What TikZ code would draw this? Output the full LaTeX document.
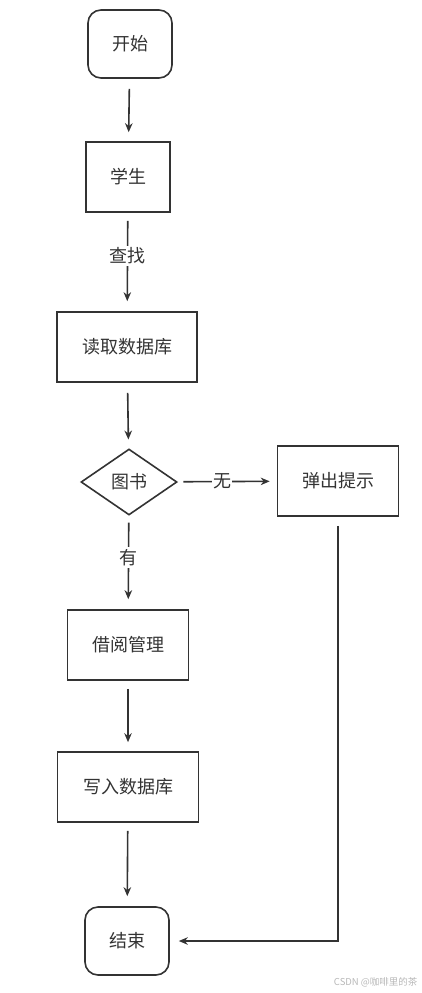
\documentclass[tikz,border=0pt]{standalone}
\usepackage{fontspec}
\setmainfont{Noto Sans CJK SC}
\usepackage{tikz}
\usetikzlibrary{shapes.geometric,arrows.meta}
\definecolor{ink}{HTML}{333333}

\begin{document}
\begin{tikzpicture}[x=1pt,y=-1pt,
    font=\fontsize{18}{20}\selectfont, text=ink,
    >={Stealth[length=9pt,width=7.5pt]},
    box/.style={draw=ink,line width=1.6pt,minimum width=#1,minimum height=70pt,inner sep=0pt},
    term/.style={draw=ink,line width=1.6pt,rounded corners=13pt,minimum width=84pt,minimum height=68pt},
    decision/.style={draw=ink,line width=1.6pt,diamond,aspect=1.45,minimum width=96pt,minimum height=66pt,inner sep=0pt},
    lbl/.style={fill=white,inner sep=2pt}]
        \useasboundingbox (0,0) rectangle (422,993);

        \node[term] (start) at (130,44) {开始};
        \node[box=84pt] (stu) at (128,177) {学生};
        \node[box=140pt] (read) at (127,347) {读取数据库};
        \node[decision] (book) at (129,482) {图书};
        \node[box=121pt] (tip) at (338,481) {弹出提示};
        \node[box=121pt] (borrow) at (128,645) {借阅管理};
        \node[box=141pt] (write) at (128,787) {写入数据库};
        \node[term] (end) at (127,941) {结束};

        \path[->,draw=ink,line width=1.6pt]
        (start) edge [shorten <=10pt,shorten >=9pt] (stu)
        (stu) edge [shorten <=8pt,shorten >=10pt] node [lbl,pos=0.44] {查找} (read)
        (read) edge [shorten <=10pt,shorten >=9pt] (book)
        (book) edge [shorten <=6pt,shorten >=7pt] node [lbl,inner sep=1pt,pos=0.45] {无} (tip)
        (book) edge [shorten <=7pt,shorten >=10pt] node [lbl,pos=0.45] {有} (borrow)
        (borrow) edge [shorten <=8pt,shorten >=9pt] (write)
        (write) edge [shorten <=8pt,shorten >=10pt] (end)
        ;
        \draw[->,ink,line width=1.6pt,shorten <=9pt,shorten >=9pt] (tip.south) |- (end.east);

        \node[text=ink!35,font=\fontsize{9.5}{10}\selectfont,anchor=east] (mark) at (421,982) {CSDN @咖啡里的茶};
\end{tikzpicture}
\end{document}
